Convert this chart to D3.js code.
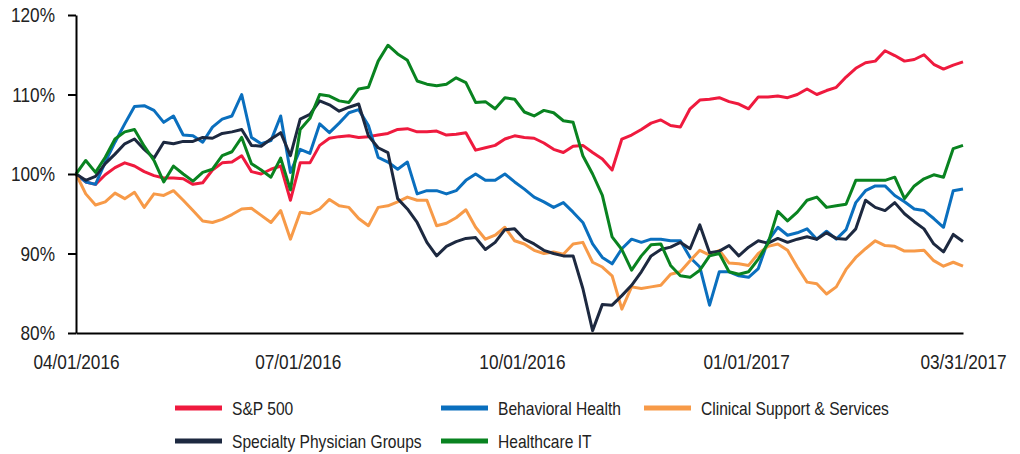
<!DOCTYPE html>
<html>
<head>
<meta charset="utf-8">
<script src="https://cdn.jsdelivr.net/npm/d3@7"></script>
<style>
  body { margin: 0; background: #fff; }
  svg { display: block; }
  .axis text { font-family: "Liberation Sans Narrow", "Liberation Sans", Arial, sans-serif; font-size: 21px; fill: #222; }
  .axis path, .axis line { stroke: #000; stroke-width: 2; }
  .legend text { font-family: "Liberation Sans Narrow", "Liberation Sans", Arial, sans-serif; font-size: 19px; fill: #222; }
</style>
</head>
<body>
<svg id="chart" width="1020" height="454"></svg>
<script>
var width = 1020;
var height = 454;
var plotLeft = 76, plotRight = 963, plotTop = 15, plotBottom = 333;

// dates of the points (every 4 days)
var dates = ["2016-04-01","2016-04-05","2016-04-09","2016-04-13","2016-04-17","2016-04-21","2016-04-25","2016-04-29",
  "2016-05-03","2016-05-07","2016-05-11","2016-05-15","2016-05-19","2016-05-23","2016-05-27","2016-05-31",
  "2016-06-04","2016-06-08","2016-06-12","2016-06-16","2016-06-20","2016-06-24","2016-06-28","2016-07-02",
  "2016-07-06","2016-07-10","2016-07-14","2016-07-18","2016-07-22","2016-07-26","2016-07-30","2016-08-03",
  "2016-08-07","2016-08-11","2016-08-15","2016-08-19","2016-08-23","2016-08-27","2016-08-31","2016-09-04",
  "2016-09-08","2016-09-12","2016-09-16","2016-09-20","2016-09-24","2016-09-28","2016-10-02","2016-10-06",
  "2016-10-10","2016-10-14","2016-10-18","2016-10-22","2016-10-26","2016-10-30","2016-11-03","2016-11-07",
  "2016-11-11","2016-11-15","2016-11-19","2016-11-23","2016-11-27","2016-12-01","2016-12-05","2016-12-09",
  "2016-12-13","2016-12-17","2016-12-21","2016-12-25","2016-12-29","2017-01-02","2017-01-06","2017-01-10",
  "2017-01-14","2017-01-18","2017-01-22","2017-01-26","2017-01-30","2017-02-03","2017-02-07","2017-02-11",
  "2017-02-15","2017-02-19","2017-02-23","2017-02-27","2017-03-03","2017-03-07","2017-03-11","2017-03-15",
  "2017-03-19","2017-03-23","2017-03-27","2017-03-31"];

var sp500 = [100, 99.0, 98.7, 99.9, 100.8, 101.4, 101.0, 100.3, 99.8, 99.5, 99.5, 99.4,
  98.7, 98.9, 100.5, 101.4, 101.5, 102.3, 100.3, 100.0, 100.6, 101.0, 96.7, 101.4,
  101.4, 103.6, 104.5, 104.7, 104.8, 104.6, 104.7, 104.9, 105.1, 105.6, 105.7, 105.3, 105.3,
  105.4, 104.9, 105.0, 105.2, 103.0, 103.3, 103.6, 104.4, 104.8, 104.6, 104.5, 103.9,
  103.1, 102.7, 103.5, 103.6, 102.7, 101.9, 100.5, 104.4, 104.9, 105.6, 106.4, 106.8, 106.1,
  105.9, 108.2, 109.3, 109.4, 109.6, 109.1, 108.8, 108.2, 109.7, 109.7, 109.8, 109.6,
  110.0, 110.7, 110.0, 110.5, 110.9, 112.2, 113.3, 114.0, 114.2, 115.5, 114.9, 114.2,
  114.4, 115.0, 113.8, 113.2, 113.7, 114.1];

var behavioral = [100, 99.0, 98.7, 101.5, 104.0, 106.3, 108.5, 108.6, 108.0, 106.5, 107.3, 104.9,
  104.8, 104.0, 105.9, 106.9, 107.3, 110.0, 104.6, 103.8, 104.2, 107.3, 100.2, 103.1,
  102.6, 106.3, 105.2, 106.4, 107.7, 108.1, 106.1, 102.1, 101.5, 100.6, 101.5, 97.5, 97.9,
  97.9, 97.5, 97.9, 99.2, 100.0, 99.2, 99.2, 100.0, 99.0, 98.1, 97.1, 96.5,
  95.8, 96.4, 95.2, 93.9, 91.2, 89.5, 88.7, 90.6, 91.8, 91.4, 91.8, 91.8, 91.6,
  91.6, 89.5, 88.3, 83.5, 87.7, 87.7, 87.2, 87.0, 88.1, 91.6, 93.3, 92.3,
  92.6, 93.1, 91.8, 92.8, 91.8, 93.0, 96.4, 97.9, 98.5, 98.5, 97.3, 96.5,
  95.6, 95.4, 94.4, 93.3, 97.9, 98.1];

var clinical = [100, 97.5, 96.1, 96.5, 97.6, 96.9, 97.7, 95.8, 97.5, 97.3, 97.9, 96.7,
  95.4, 94.1, 93.9, 94.3, 94.9, 95.6, 95.7, 94.8, 93.9, 95.4, 91.8, 95.2,
  95.0, 95.6, 96.8, 96.0, 95.8, 94.4, 93.5, 95.8, 96.0, 96.5, 97.1, 96.7, 96.7,
  93.5, 93.8, 94.5, 95.5, 93.3, 91.8, 92.3, 93.3, 91.6, 91.2, 90.4, 90.0,
  90.2, 89.9, 91.2, 91.4, 88.9, 88.3, 87.2, 83.0, 85.8, 85.6, 85.8, 86.0, 87.4,
  87.7, 89.1, 90.4, 89.8, 90.4, 88.8, 88.7, 88.5, 90.0, 90.9, 91.2, 90.4,
  88.3, 86.4, 86.2, 84.9, 85.8, 88.0, 89.5, 90.6, 91.6, 91.0, 90.9, 90.3,
  90.3, 90.4, 89.1, 88.4, 88.9, 88.4];

var specialty = [100, 99.2, 99.7, 101.3, 102.5, 103.8, 104.4, 103.1, 102.0, 104.0, 103.8, 104.1,
  104.1, 104.6, 104.5, 105.1, 105.3, 105.6, 103.6, 103.5, 104.4, 105.2, 102.3, 106.9,
  107.5, 109.2, 108.7, 107.9, 108.4, 108.8, 104.8, 103.3, 102.7, 96.9, 95.6, 93.9, 91.4,
  89.7, 90.9, 91.5, 91.9, 92.0, 90.5, 91.4, 93.0, 93.1, 91.8, 91.2, 90.4,
  90.0, 89.7, 89.7, 85.6, 80.3, 83.6, 83.5, 84.7, 86.0, 87.7, 89.7, 90.5, 90.8,
  91.4, 90.6, 93.6, 90.1, 90.3, 91.0, 89.7, 90.8, 91.6, 91.3, 91.9, 91.4,
  91.8, 92.1, 91.8, 92.6, 91.9, 91.8, 93.1, 96.7, 95.8, 95.4, 96.4, 95.0,
  94.0, 93.1, 91.2, 90.2, 92.4, 91.5];

var healthIT = [100, 101.7, 100.2, 102.1, 104.4, 105.3, 105.6, 103.5, 101.7, 99.0, 101.0, 100.0,
  99.1, 100.2, 100.6, 102.3, 102.8, 104.6, 101.3, 100.5, 99.6, 102.0, 98.0, 105.6,
  107.0, 110.0, 109.8, 109.2, 109.0, 110.7, 110.9, 114.2, 116.2, 115.1, 114.3, 111.7, 111.3,
  111.1, 111.3, 112.1, 111.5, 109.0, 109.1, 108.2, 109.6, 109.4, 107.8, 107.3, 108.0,
  107.7, 106.7, 106.5, 102.3, 100.0, 97.3, 92.1, 90.5, 87.9, 89.7, 91.1, 91.2, 88.5,
  87.2, 87.0, 87.9, 89.7, 90.0, 87.7, 87.4, 87.7, 89.3, 91.3, 95.3, 94.1,
  95.2, 96.7, 97.1, 95.8, 96.0, 96.2, 99.2, 99.2, 99.2, 99.2, 99.6, 96.9,
  98.5, 99.4, 99.9, 99.6, 103.2, 103.6];

var seriesNames = ["S&P 500", "Behavioral Health", "Clinical Support & Services", "Specialty Physician Groups", "Healthcare IT"];
var seriesValues = [sp500, behavioral, clinical, specialty, healthIT];
var seriesColors = ["#EF1A3E", "#0A6FBE", "#F79A48", "#1D2940", "#098320"];

var xTickDates = ["2016-04-01", "2016-07-01", "2016-10-01", "2017-01-01", "2017-03-31"];
var xTickLabels = ["04/01/2016", "07/01/2016", "10/01/2016", "01/01/2017", "03/31/2017"];
var yTicks = [80, 90, 100, 110, 120];

var parse = d3.timeParse("%Y-%m-%d");
var svg = d3.select("#chart");

var xScale = d3.scaleTime()
    .domain([parse(dates[0]), parse(dates[dates.length - 1])])
    .range([plotLeft, plotRight]);
var yScale = d3.scaleLinear()
    .domain([80, 120])
    .range([plotBottom, plotTop]);

// lines
var line = d3.line()
    .x(function(d, i){ return xScale(parse(dates[i])) })
    .y(function(d){ return yScale(d) });

svg.append("g")
    .selectAll("path")
    .data(seriesValues)
    .enter()
    .append("path")
    .attr("d", function(d){ return line(d) })
    .attr("fill", "none")
    .attr("stroke", function(d, i){ return seriesColors[i] })
    .attr("stroke-width", 3)
    .attr("stroke-linejoin", "round");

// axes
var yAxis = d3.axisLeft(yScale)
    .tickValues(yTicks)
    .tickFormat(function(d){ return d + "%" })
    .tickSize(8)
    .tickSizeOuter(0)
    .tickPadding(13);
svg.append("g")
    .attr("class", "axis")
    .attr("transform", "translate(" + plotLeft + ",0)")
    .call(yAxis);

var xAxis = d3.axisBottom(xScale)
    .tickValues(xTickDates.map(parse))
    .tickFormat(function(d, i){ return xTickLabels[i] })
    .tickSize(0)
    .tickSizeOuter(0)
    .tickPadding(21);
svg.append("g")
    .attr("class", "axis")
    .attr("transform", "translate(0," + plotBottom + ")")
    .call(xAxis);

// legend
var legendPos = [[175, 408], [441, 408], [644, 408], [175, 441], [441, 441]];
var legend = svg.append("g").attr("class", "legend");
seriesNames.forEach(function(name, i){
    var p = legendPos[i];
    legend.append("line")
        .attr("x1", p[0]).attr("x2", p[0] + 47)
        .attr("y1", p[1]).attr("y2", p[1])
        .attr("stroke", seriesColors[i])
        .attr("stroke-width", 5);
    legend.append("text")
        .attr("x", p[0] + 57)
        .attr("y", p[1])
        .attr("dy", "0.35em")
        .text(name);
});

// condense the text (no narrow font installed)
svg.selectAll("text").each(function(){
    var len = this.getComputedTextLength();
    d3.select(this)
        .attr("textLength", len * 0.82)
        .attr("lengthAdjust", "spacingAndGlyphs");
});
</script>
</body>
</html>
